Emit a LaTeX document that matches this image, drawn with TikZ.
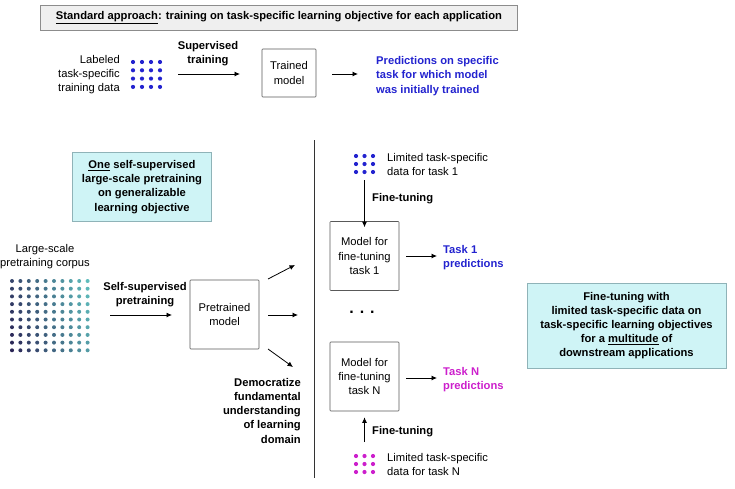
\documentclass[tikz,border=0pt]{standalone}
\usepackage{fontspec}
\setmainfont{Liberation Sans}
\usetikzlibrary{arrows.meta}
\definecolor{bluet}{HTML}{2323CF}
\definecolor{magt}{HTML}{CC1FCC}
\definecolor{cyanfill}{HTML}{CFF4F6}
\definecolor{cyanborder}{HTML}{8FB3B8}
\definecolor{grayfill}{HTML}{EFEFEF}
\definecolor{navyd}{HTML}{2A2455}
\definecolor{tealc}{HTML}{5FBCBC}
\begin{document}
\begin{tikzpicture}[x=1pt,y=-1pt,
  font=\fontsize{11.2}{14.2}\selectfont,
  txt/.style={inner sep=0pt},
  bld/.style={font=\fontsize{11.2}{14.2}\selectfont\bfseries},
  boxm/.style={draw=black!65, line width=0.6pt, minimum width=69pt, minimum height=69pt, align=center, inner sep=0pt, rounded corners=0.8pt},
  infobox/.style={draw=cyanborder, fill=cyanfill, line width=0.8pt, align=center, inner sep=0pt, bld},
  arr/.style={line width=0.8pt, -{Latex[length=5.5pt,width=5pt]}}
]
\useasboundingbox (0,0) rectangle (735,488);

% header
\node[draw=black!45, fill=grayfill, line width=0.6pt, minimum width=477pt, minimum height=25pt, inner sep=0pt, bld] (hdr) at (279,18) {\underline{Standard approach}: training on task-specific learning objective for each application};

% standard row
\node[txt, align=right, anchor=east] (lab) at (120,74.5) {Labeled\\task-specific\\training data};
\foreach \i in {0,...,3}{\foreach \j in {0,...,3}{
  \fill[bluet] (133+\i*9, 62+\j*8.3) circle (2.1);}}
\node[txt, align=center, bld] (sup) at (208,54) {Supervised\\training};
\node[boxm, minimum width=54pt, minimum height=48pt] (trained) at (289,73) {Trained\\model};
\coordinate (s1) at (178,74);
\coordinate (s2) at (240,74);
\draw[arr] (s1) -- (s2);
\coordinate (r1) at (332,74);
\coordinate (r2) at (358,74);
\draw[arr] (r1) -- (r2);
\node[txt, align=left, anchor=west, text=bluet, bld] (pred) at (376,76) {Predictions on specific\\task for which model\\was initially trained};

% left cyan box
\node[infobox, minimum width=139pt, minimum height=69pt] (one) at (142,187) {\underline{One} self-supervised\\large-scale pretraining\\on generalizable\\learning objective};

% corpus
\node[txt, align=center] (corpus) at (45,256.5) {Large-scale\\pretraining corpus};
\foreach \i in {0,...,9}{\foreach \j in {0,...,9}{
  \pgfmathsetmacro{\t}{100*(0.78*\i/9+0.22*(9-\j)/9)}
  \fill[tealc!\t!navyd] (12+\i*8.4, 281+\j*7.7) circle (2.0);}}
\node[txt, align=center, bld] (ssp) at (145,294.5) {Self-supervised\\pretraining};
\node[boxm] (pre) at (224.5,314.5) {Pretrained\\model};
\coordinate (c1) at (110,315);
\coordinate (c2) at (172,315);
\draw[arr] (c1) -- (c2);
\coordinate (u0) at (268,279);
\coordinate (u1) at (295,265);
\coordinate (m0) at (268,315);
\coordinate (m1) at (298,315);
\coordinate (d0) at (268,349);
\coordinate (d1) at (293,367);
\draw[arr] (u0) -- (u1);
\draw[arr] (m0) -- (m1);
\draw[arr] (d0) -- (d1);
\node[txt, align=right, anchor=north east, bld] (demo) at (301,378) {Democratize\\fundamental\\understanding\\of learning\\domain};

% divider
\coordinate (v0) at (314,140);
\coordinate (v1) at (314,478);
\draw[line width=0.8pt, black!80] (v0) -- (v1);

% task 1
\foreach \i in {0,...,2}{\foreach \j in {0,...,2}{
  \fill[bluet] (356+\i*8.5, 156+\j*8) circle (2.1);}}
\node[txt, align=left, anchor=west] (lim1) at (387,164.5) {Limited task-specific\\data for task 1};
\node[boxm] (t1) at (364.5,256) {Model for\\fine-tuning\\task 1};
\coordinate (f1) at (364.5,180);
\draw[arr] (f1) -- ([yshift=-6pt]t1.north);
\node[txt, anchor=west, bld] (ft1) at (372,199) {Fine-tuning};
\coordinate (q1) at (406,256);
\coordinate (q2) at (437,256);
\draw[arr] (q1) -- (q2);
\node[txt, align=left, anchor=west, text=bluet, bld] (p1) at (443,257.5) {Task 1\\predictions};

\node[txt, font=\fontsize{16}{16}\selectfont\bfseries] (dots) at (362,312) {. . .};

% task N
\node[boxm] (tN) at (364.5,376.5) {Model for\\fine-tuning\\task N};
\coordinate (qN1) at (406,378);
\coordinate (qN2) at (437,378);
\draw[arr] (qN1) -- (qN2);
\node[txt, align=left, anchor=west, text=magt, bld] (pN) at (443,379.5) {Task N\\predictions};
\coordinate (fN) at (364.5,442);
\draw[arr] (fN) -- ([yshift=-6pt]tN.south);
\node[txt, anchor=west, bld] (ftN) at (372,432) {Fine-tuning};
\foreach \i in {0,...,2}{\foreach \j in {0,...,2}{
  \fill[magt] (356+\i*8.5, 456+\j*8) circle (2.1);}}
\node[txt, align=left, anchor=west] (limN) at (387,464.5) {Limited task-specific\\data for task N};

% right cyan box
\node[infobox, minimum width=199pt, minimum height=85pt] (ftbox) at (626.5,325.5) {Fine-tuning with\\limited task-specific data on\\task-specific learning objectives\\for a \underline{multitude} of\\downstream applications};
\end{tikzpicture}
\end{document}
